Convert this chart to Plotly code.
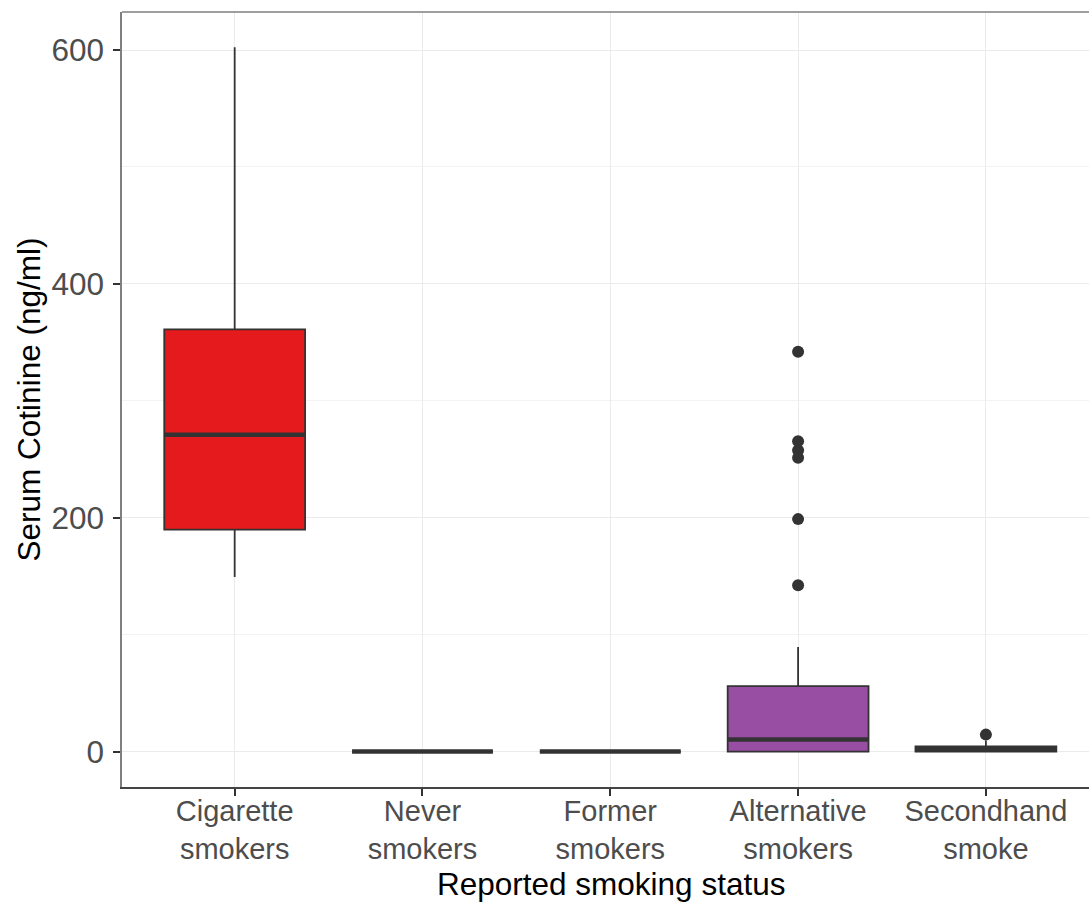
import plotly.graph_objects as go

# ---- data ----
categories = ["Cigarette<br>smokers", "Never<br>smokers", "Former<br>smokers",
              "Alternative<br>smokers", "Secondhand<br>smoke"]
q1 = [189.8, 0, 0, 0, 0]
medians = [271.0, 0, 0, 10.3, 2.0]
q3 = [361.0, 0, 0, 55.9, 4.5]
lower_fence = [149.3, 0, 0, 0, 0]
upper_fence = [602.3, 0, 0, 89.5, 9.5]
outliers = {
    3: [341.9, 265.5, 257.8, 251.2, 198.8, 142.3],
    4: [14.5],
}
fill_colors = ["#E41A1C", "#377EB8", "#4DAF4A", "#984EA3", "#FF7F00"]
y_ticks = [0, 200, 400, 600]
y_minor = [100, 300, 500]

BOX_W = 0.75
OUTLINE = "#333333"
FONT = "Liberation Sans, Arial, sans-serif"
TICK_SIZE = 29
TITLE_SIZE = 31.5

fig = go.Figure()
for i, cat in enumerate(categories):
    fig.add_trace(go.Box(
        x=[i], q1=[q1[i]], median=[medians[i]], q3=[q3[i]],
        lowerfence=[lower_fence[i]], upperfence=[upper_fence[i]],
        width=BOX_W, whiskerwidth=0, boxpoints=False,
        fillcolor=fill_colors[i], line=dict(color=OUTLINE, width=1.8),
        showlegend=False, hoverinfo="skip",
    ))
    # thick median bar (ggplot style)
    fig.add_trace(go.Scatter(
        x=[i - BOX_W / 2, i + BOX_W / 2], y=[medians[i], medians[i]],
        mode="lines", line=dict(color=OUTLINE, width=4.5),
        showlegend=False, hoverinfo="skip",
    ))
    if i in outliers:
        fig.add_trace(go.Scatter(
            x=[i] * len(outliers[i]), y=outliers[i], mode="markers",
            marker=dict(color=OUTLINE, size=12),
            showlegend=False, hoverinfo="skip",
        ))

fig.update_layout(
    width=1089, height=902,
    margin=dict(l=122, r=0, t=12, b=115, autoexpand=False),
    paper_bgcolor="white", plot_bgcolor="white",
    boxmode="overlay",
    font=dict(family=FONT),
    annotations=[dict(
        x=0.5057, xref="paper", y=0, yref="paper", yanchor="top", yshift=-77,
        text="Reported smoking status", showarrow=False,
        font=dict(size=TITLE_SIZE, color="black", family=FONT),
    )],
    shapes=[dict(type="line", xref="paper", yref="paper", x0=0, x1=1, y0=1, y1=1,
                 line=dict(color="#7F7F7F", width=1.5))],
)
fig.update_xaxes(
    range=[-0.6, 4.549], automargin=False,
    tickmode="array", tickvals=list(range(len(categories))), ticktext=categories,
    tickfont=dict(size=TICK_SIZE, color="#4D4D4D", family=FONT),
    ticks="outside", ticklen=7, tickwidth=1.5, tickcolor="#333333",
    ticklabelstandoff=-10,
    showline=True, linecolor="#444444", linewidth=2,
    showgrid=True, gridcolor="#EBEBEB", gridwidth=1.2,
    zeroline=False,
)
fig.update_yaxes(
    range=[-30.3, 632.5], automargin=False,
    tickmode="array", tickvals=y_ticks,
    tickfont=dict(size=31.5, color="#4D4D4D", family=FONT),
    ticks="outside", ticklen=7, tickwidth=1.5, tickcolor="#333333",
    ticklabelstandoff=3,
    showline=True, linecolor="#7F7F7F", linewidth=1.5,
    showgrid=True, gridcolor="#EBEBEB", gridwidth=1.2,
    minor=dict(tickvals=y_minor, showgrid=True, gridcolor="#F3F3F3", gridwidth=0.8, ticks=""),
    zeroline=False,
    title=dict(text="Serum Cotinine (ng/ml)", font=dict(size=TITLE_SIZE, color="black", family=FONT),
               standoff=1),
)

fig.write_html(
    "out.html",
    config={"displayModeBar": False},
    post_script="document.body.style.margin='0';document.body.style.overflow='hidden';",
)
